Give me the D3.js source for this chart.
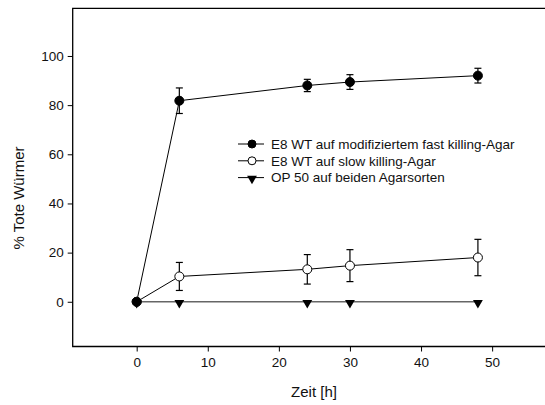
<!DOCTYPE html>
<html>
<head>
<meta charset="utf-8">
<script src="https://cdn.jsdelivr.net/npm/d3@7"></script>
<style>
  body { margin: 0; background: #fff; }
  svg text { font-family: "Liberation Sans", Arial, sans-serif; fill: #111; }
</style>
</head>
<body>
<svg id="chart" width="545" height="405"></svg>
<script>
const hours = [0, 6, 24, 30, 48];
const fastKill = [0, 81.8, 88, 89.4, 92];
const fastErr = [0, 5.2, 2.5, 3, 3];
const slowKill = [0, 10.3, 13.2, 14.7, 18];
const slowErr = [0, 5.7, 6, 6.5, 7.4];
const op50 = [0, 0, 0, 0, 0];
const xTicks = [0, 10, 20, 30, 40, 50];
const yTicks = [0, 20, 40, 60, 80, 100];
const legendLabels = [
  "E8 WT auf modifiziertem fast killing-Agar",
  "E8 WT auf slow killing-Agar",
  "OP 50 auf beiden Agarsorten"
];

const svg = d3.select("#chart");
const x = d3.scaleLinear().domain([-9, 58]).range([72.7, 549]);
const y = d3.scaleLinear().domain([-18.2, 119.4]).range([346.5, 8.3]);

// frame (right side runs off the picture)
svg.append("path")
  .attr("d", `M${x(62)},${y(119.4)}H${x(-9)}V${y(-18.2)}H${x(62)}`)
  .attr("fill", "none").attr("stroke", "#000").attr("stroke-width", 1.3);

const xAxis = svg.append("g").attr("transform", `translate(0,${y(-18.2)})`)
  .call(d3.axisBottom(x).tickValues(xTicks).tickSize(5).tickPadding(6));
const yAxis = svg.append("g").attr("transform", `translate(${x(-9)},0)`)
  .call(d3.axisLeft(y).tickValues(yTicks).tickSize(5).tickPadding(4));
[xAxis, yAxis].forEach(a => {
  a.select(".domain").remove();
  a.selectAll("line").attr("stroke", "#000");
  a.selectAll("text").attr("font-size", 13.5).attr("font-family", "Liberation Sans, Arial, sans-serif").attr("fill", "#111");
});

svg.append("text").attr("x", 314).attr("y", 397).attr("text-anchor", "middle")
  .attr("font-size", 15).text("Zeit [h]");
svg.append("text").attr("transform", "translate(24,198) rotate(-90)").attr("text-anchor", "middle")
  .attr("font-size", 15).text("% Tote Würmer");

const line = d3.line().x(d => x(d[0])).y(d => y(d[1]));
const tri = d3.symbol().type(d3.symbolTriangle).size(42);

// OP 50
svg.append("path").datum(d3.zip(hours, op50)).attr("d", line)
  .attr("fill", "none").attr("stroke", "#666").attr("stroke-width", 1.6);
svg.selectAll(".tri").data(d3.zip(hours, op50)).join("path")
  .attr("transform", d => `translate(${x(d[0])},${y(d[1]) + 1}) rotate(180)`)
  .attr("d", tri).attr("fill", "#000");

function drawSeries(vals, errs, fill) {
  const pts = d3.zip(hours, vals, errs);
  const g = svg.append("g");
  g.append("path").datum(pts).attr("d", line)
    .attr("fill", "none").attr("stroke", "#000").attr("stroke-width", 1);
  const eb = g.selectAll(".eb").data(pts.filter(d => d[2] > 0)).join("g");
  eb.append("line").attr("x1", d => x(d[0])).attr("x2", d => x(d[0]))
    .attr("y1", d => y(d[1] + d[2])).attr("y2", d => y(d[1] - d[2]))
    .attr("stroke", "#000").attr("stroke-width", 1.2);
  [1, -1].forEach(s => {
    eb.append("line").attr("x1", d => x(d[0]) - 3.5).attr("x2", d => x(d[0]) + 3.5)
      .attr("y1", d => y(d[1] + s * d[2])).attr("y2", d => y(d[1] + s * d[2]))
      .attr("stroke", "#000").attr("stroke-width", 1.2);
  });
  g.selectAll("circle").data(pts).join("circle")
    .attr("cx", d => x(d[0])).attr("cy", d => y(d[1])).attr("r", 4.5)
    .attr("fill", fill).attr("stroke", "#000").attr("stroke-width", 1);
}
drawSeries(slowKill, slowErr, "#fff");
drawSeries(fastKill, fastErr, "#000");

// legend
const leg = svg.append("g");
legendLabels.forEach((t, i) => {
  const ly = 144 + i * 16.8;
  leg.append("line").attr("x1", 238).attr("x2", 264).attr("y1", ly).attr("y2", ly)
    .attr("stroke", "#000").attr("stroke-width", 1);
  if (i < 2) {
    leg.append("circle").attr("cx", 252).attr("cy", ly).attr("r", 4)
      .attr("fill", i === 0 ? "#000" : "#fff").attr("stroke", "#000");
  } else {
    leg.append("path").attr("transform", `translate(252,${ly + 1}) rotate(180)`)
      .attr("d", tri).attr("fill", "#000");
  }
  leg.append("text").attr("x", 271).attr("y", ly + 4.8).attr("font-size", 13.5).text(t);
});
</script>
</body>
</html>
